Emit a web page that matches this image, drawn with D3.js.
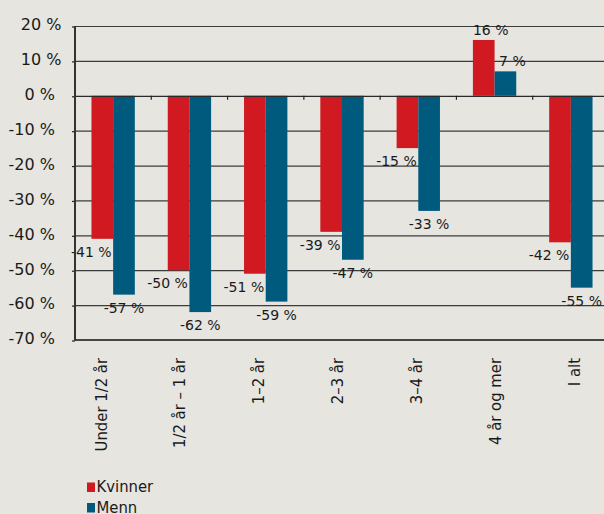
<!DOCTYPE html>
<html>
<head>
<meta charset="utf-8">
<script src="https://cdn.jsdelivr.net/npm/d3@7"></script>
<style>
  html, body { margin: 0; padding: 0; background: #e6e5df; }
  svg { display: block; }
  .tick-label { font-family: "DejaVu Sans", Verdana, sans-serif; font-size: 16px; fill: #1a1a1a; }
  .bar-label { font-family: "DejaVu Sans", Verdana, sans-serif; font-size: 14px; fill: #1a1a1a; }
  .cat-label { font-family: "DejaVu Sans Condensed", "DejaVu Sans", sans-serif; font-size: 16.5px; fill: #1a1a1a; }
  .legend { font-family: "DejaVu Sans Condensed", "DejaVu Sans", sans-serif; font-size: 16.5px; fill: #1a1a1a; }
</style>
</head>
<body>
<svg id="chart"></svg>
<script>
// chart data
var categories = ["Under 1/2 år", "1/2 år – 1 år", "1–2 år", "2–3 år", "3–4 år", "4 år og mer", "I alt"];
var seriesNames = ["Kvinner", "Menn"];
var kvinner = [-41, -50, -51, -39, -15, 16, -42];
var menn = [-57, -62, -59, -47, -33, 7, -55];
var yTicks = [20, 10, 0, -10, -20, -30, -40, -50, -60, -70];

var colors = { Kvinner: "#d01920", Menn: "#005a7d" };
var width = 604, height = 514;
var plot = { left: 75, right: 609, top: 26, bottom: 340 };

var svg = d3.select("#chart").attr("width", width).attr("height", height);

var rows = categories.map(function (c, i) {
  return { cat: c, values: [{ key: "Kvinner", v: kvinner[i] }, { key: "Menn", v: menn[i] }] };
});

// scales
var x0 = d3.scaleBand().domain(categories).range([plot.left, plot.right]).padding(0);
var x1 = d3.scaleBand().domain(seriesNames).range([0, x0.bandwidth()])
  .paddingInner(0).paddingOuter(0.76);
var y = d3.scaleLinear().domain([-70, 20]).range([plot.bottom, plot.top]);
// category labels sit on their own (slightly wider) spacing in the original
var xLab = d3.scalePoint().domain(categories).range([100.5, 574]);

// gridlines
svg.append("g")
  .selectAll("line")
  .data(yTicks.filter(function (t) { return t !== -70 && t !== 0; }))
  .enter()
  .append("line")
  .attr("x1", plot.left).attr("x2", plot.right)
  .attr("y1", function (d) { return y(d) + 0.5; })
  .attr("y2", function (d) { return y(d) + 0.5; })
  .attr("stroke", "#3c3c3c")
  .attr("stroke-width", 1.2);

// y axis ticks + labels
var yAxis = svg.append("g")
  .attr("transform", "translate(" + plot.left + ",0)")
  .call(d3.axisLeft(y).tickValues(yTicks).tickSize(3).tickPadding(17)
    .tickFormat(function (d) { return d + " %"; }));
yAxis.select(".domain").remove();
yAxis.selectAll(".tick line").attr("stroke", "#222").attr("stroke-width", 1.2)
  .attr("transform", "translate(0,0.5)");
// positive labels sit a little further right in the original
yAxis.selectAll(".tick text")
  .attr("class", "tick-label")
  .attr("dx", function (d) { return d > 0 ? 6.5 : 0; })
  .attr("dy", "0.24em");
yAxis.attr("font-family", null).attr("font-size", null);

// bars
var groups = svg.append("g")
  .selectAll("g")
  .data(rows)
  .enter()
  .append("g")
  .attr("transform", function (d) { return "translate(" + x0(d.cat) + ",0)"; });

groups.selectAll("rect")
  .data(function (d) { return d.values; })
  .enter()
  .append("rect")
  .attr("x", function (d) { return x1(d.key); })
  .attr("width", x1.bandwidth())
  .attr("y", function (d) { return y(Math.max(0, d.v)); })
  .attr("height", function (d) { return Math.abs(y(d.v) - y(0)); })
  .attr("fill", function (d) { return colors[d.key]; });

// zero line, bottom line, left axis
svg.append("line")
  .attr("x1", plot.left).attr("x2", plot.right)
  .attr("y1", y(0) + 0.5).attr("y2", y(0) + 0.5)
  .attr("stroke", "#2a2a2a").attr("stroke-width", 1.2);
svg.append("line")
  .attr("x1", plot.left).attr("x2", plot.right)
  .attr("y1", y(-70)).attr("y2", y(-70))
  .attr("stroke", "#111").attr("stroke-width", 1.6);
svg.append("line")
  .attr("x1", plot.left).attr("x2", plot.left)
  .attr("y1", y(20)).attr("y2", y(-70) + 0.8)
  .attr("stroke", "#333").attr("stroke-width", 2);

// small category ticks below the zero line
svg.append("g")
  .selectAll("line")
  .data(categories.slice(1))
  .enter()
  .append("line")
  .attr("x1", function (d) { return x0(d); })
  .attr("x2", function (d) { return x0(d); })
  .attr("y1", y(0)).attr("y2", y(0) + 4)
  .attr("stroke", "#222").attr("stroke-width", 1.2);

// value labels
groups.selectAll("text")
  .data(function (d) { return d.values; })
  .enter()
  .append("text")
  .attr("class", "bar-label")
  .attr("text-anchor", "middle")
  .attr("x", function (d) {
    var cx = x1(d.key) + x1.bandwidth() / 2;
    if (d.v > 0) return cx + 7;
    return d.key === "Kvinner" ? cx - 11 : cx;
  })
  .attr("y", function (d) { return d.v > 0 ? y(d.v) - 5 : y(d.v) + 18; })
  .text(function (d) { return d.v + " %"; });

// category labels, rotated
svg.append("g")
  .selectAll("text")
  .data(categories)
  .enter()
  .append("text")
  .attr("class", "cat-label")
  .attr("text-anchor", "end")
  .attr("transform", function (d) { return "translate(" + (xLab(d) + 6) + ",358) rotate(-90)"; })
  .text(function (d) { return d; });

// legend
var legend = svg.append("g")
  .selectAll("g")
  .data(seriesNames)
  .enter()
  .append("g")
  .attr("transform", function (d, i) { return "translate(87," + (482.5 + i * 20.5) + ")"; });
legend.append("rect")
  .attr("width", 8).attr("height", 9.5)
  .attr("fill", function (d) { return colors[d]; });
legend.append("text")
  .attr("class", "legend")
  .attr("x", 9.5).attr("y", 9.5)
  .text(function (d) { return d; });
</script>
</body>
</html>
